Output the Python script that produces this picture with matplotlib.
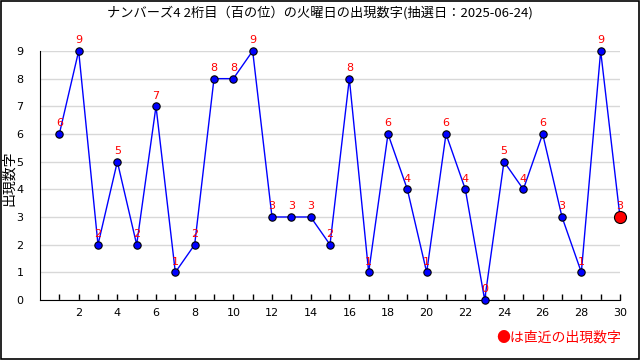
import numpy as np
import matplotlib.pyplot as plt
from matplotlib.patches import Rectangle

plt.rcParams['font.family'] = ['Noto Sans CJK JP', 'DejaVu Sans']

# draws (1..30) and digit drawn
draws = list(range(1, 31))
digits = [6, 9, 2, 5, 2, 7, 1, 2, 8, 8, 9, 3, 3, 3, 2, 8, 1, 6, 4, 1,
          6, 4, 0, 5, 4, 6, 3, 1, 9, 3]
xticks = list(range(2, 31, 2))
yticks = list(range(0, 10))

title = "ナンバーズ4 2桁目（百の位）の火曜日の出現数字(抽選日：2025-06-24)"

fig = plt.figure(figsize=(6.4, 3.6), dpi=100)
ax = fig.add_axes([0.0625, 0.1667, 0.90625, 0.6917])

ax.plot(draws, digits, color="blue", lw=1, zorder=2, clip_on=False)
ax.scatter(draws[:-1], digits[:-1], s=28, color="blue", edgecolors="black",
           linewidths=0.8, zorder=3, clip_on=False)
ax.scatter(draws[-1:], digits[-1:], s=75, color="red", edgecolors="black",
           linewidths=0.8, zorder=4, clip_on=False)

for x, y in zip(draws, digits):
    ax.text(x, y + 0.2, str(y), color="red", fontsize=8, ha="center",
            va="bottom", family="DejaVu Sans", zorder=5)

ax.set_xlim(0, 30)
ax.set_ylim(0, 9)
ax.set_xticks(xticks)
ax.set_xticks(draws, minor=True)
ax.set_yticks(yticks)
ax.tick_params(axis="x", which="both", direction="in", length=4, width=1,
               labelsize=8, pad=6)
ax.tick_params(axis="y", length=0, labelsize=8, pad=12)
for lbl in ax.get_xticklabels() + ax.get_yticklabels():
    lbl.set_family("DejaVu Sans")
ax.grid(axis="y", color="#d8d8d8", lw=1, zorder=0)
ax.spines["top"].set_visible(False)
ax.spines["right"].set_visible(False)
ax.set_ylabel("出現数字", fontsize=10)
ax.yaxis.set_label_coords(-0.041, 0.49)

fig.text(0.5, 0.966, title, ha="center", va="center", fontsize=9.5)
fig.text(0.97, 0.063, "●は直近の出現数字", ha="right", va="center",
         color="red", fontsize=10)

fig.patches.append(Rectangle((0.001, 0.002), 0.997, 0.995, transform=fig.transFigure,
                             fill=False, edgecolor="black", lw=1.2))

fig.savefig("out.png", dpi=100)
